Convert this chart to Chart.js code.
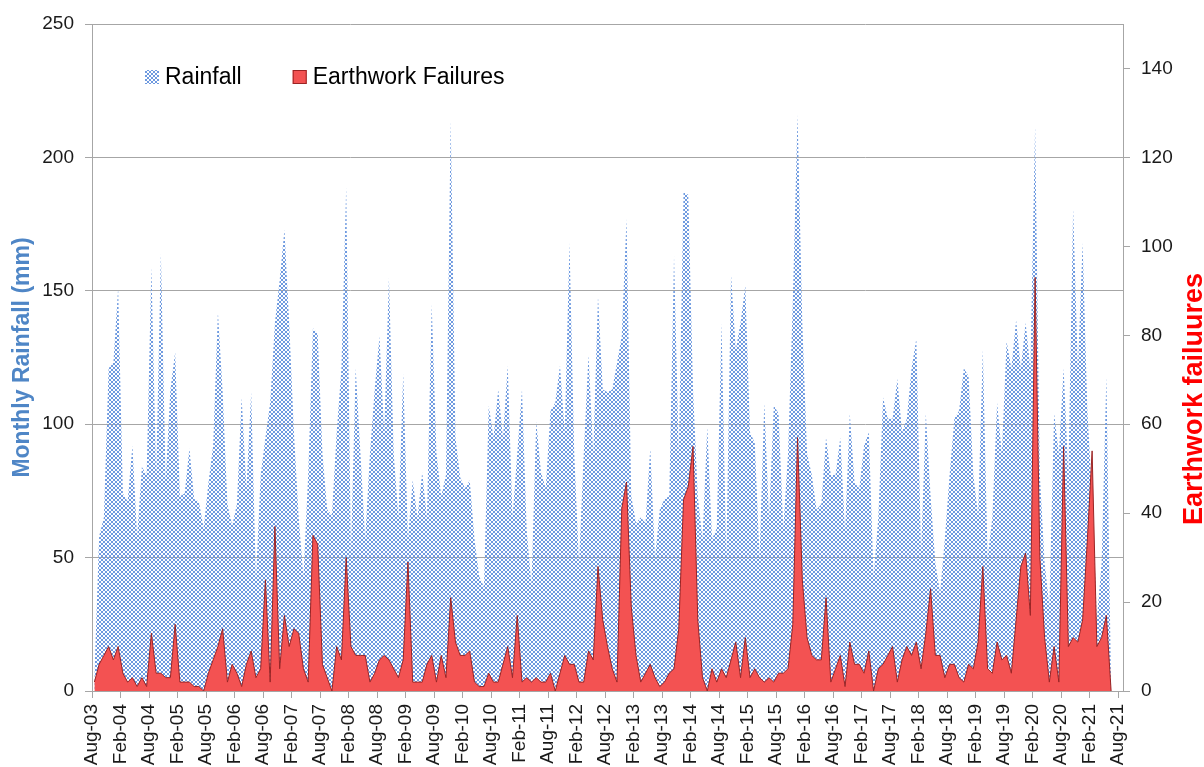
<!DOCTYPE html>
<html>
<head>
<meta charset="utf-8">
<title>Monthly rainfall and earthwork failures</title>
<script src="https://cdn.jsdelivr.net/npm/chart.js@4.4.1/dist/chart.umd.min.js"></script>
<style>
  html, body { margin: 0; padding: 0; background: #fff; }
  #wrap { width: 1204px; height: 767px; }
</style>
</head>
<body>
<div id="wrap"><canvas id="chart" width="1204" height="767"></canvas></div>
<script>
// Monthly series, Aug-03 onwards (one value per month)
const RAINFALL = [
  5, 58, 65, 121, 123, 151, 74, 71, 92, 58, 84, 81,
  159, 81, 164, 79, 113, 127, 73, 74, 91, 72, 71, 61,
  78, 92, 142, 112, 70, 62, 70, 110, 76, 112, 42, 81,
  95, 108, 138, 154, 173, 138, 97, 65, 43, 81, 136, 134,
  89, 68, 66, 97, 121, 189, 52, 121, 89, 57, 89, 113,
  133, 97, 155, 89, 65, 119, 57, 79, 65, 82, 65, 145,
  89, 73, 81, 214, 95, 80, 76, 79, 57, 43, 39, 107,
  95, 113, 95, 122, 65, 89, 113, 60, 40, 101, 82, 76,
  105, 108, 122, 97, 168, 89, 48, 89, 126, 89, 148, 113,
  112, 113, 123, 133, 177, 73, 63, 65, 63, 91, 50, 68,
  72, 73, 163, 89, 187, 186, 113, 73, 57, 99, 57, 61,
  138, 50, 156, 128, 138, 152, 97, 93, 50, 108, 65, 107,
  104, 61, 89, 146, 216, 138, 89, 81, 68, 70, 95, 81,
  81, 95, 60, 104, 78, 76, 92, 97, 43, 65, 110, 102,
  102, 117, 97, 102, 121, 132, 52, 104, 73, 48, 37, 57,
  81, 102, 105, 121, 118, 81, 66, 128, 50, 65, 108, 89,
  131, 121, 139, 121, 138, 121, 212, 81, 48, 32, 104, 89,
  121, 81, 181, 121, 168, 105, 73, 27, 48, 118, 0
];

const FAILURES = [
  2, 6, 8, 10, 7, 10, 4, 2, 3, 1, 3, 1,
  13, 4, 4, 3, 3, 15, 2, 2, 2, 1, 1, 0,
  4, 7, 10, 14, 2, 6, 4, 1, 6, 9, 3, 5,
  25, 2, 37, 5, 17, 10, 14, 13, 5, 2, 35, 33,
  6, 3, 0, 10, 7, 30, 10, 8, 8, 8, 2, 4,
  7, 8, 7, 5, 3, 7, 29, 2, 2, 2, 6, 8,
  2, 8, 3, 21, 11, 8, 8, 9, 2, 1, 1, 4,
  2, 2, 6, 10, 3, 17, 2, 3, 2, 3, 2, 2,
  4, 0, 4, 8, 6, 6, 2, 2, 9, 7, 28, 16,
  10, 5, 2, 41, 47, 19, 8, 2, 4, 6, 3, 1,
  2, 4, 5, 14, 43, 46, 55, 16, 3, 0, 5, 2,
  5, 3, 7, 11, 3, 12, 3, 5, 3, 2, 3, 2,
  4, 4, 5, 15, 57, 25, 12, 8, 7, 7, 21, 2,
  5, 8, 1, 11, 6, 6, 4, 9, 0, 5, 6, 8,
  10, 2, 7, 10, 8, 11, 5, 13, 23, 8, 8, 3,
  6, 6, 3, 2, 6, 5, 11, 28, 5, 4, 11, 7,
  8, 4, 16, 28, 31, 17, 93, 30, 12, 2, 10, 2,
  55, 10, 12, 11, 16, 34, 54, 10, 12, 17, 0
];

// one label every six months on the time axis
const TICK_LABELS = [
  'Aug-03', 'Feb-04', 'Aug-04', 'Feb-05', 'Aug-05', 'Feb-06', 'Aug-06', 'Feb-07',
  'Aug-07', 'Feb-08', 'Aug-08', 'Feb-09', 'Aug-09', 'Feb-10', 'Aug-10', 'Feb-11',
  'Aug-11', 'Feb-12', 'Aug-12', 'Feb-13', 'Aug-13', 'Feb-14', 'Aug-14', 'Feb-15',
  'Aug-15', 'Feb-16', 'Aug-16', 'Feb-17', 'Aug-17', 'Feb-18', 'Aug-18', 'Feb-19',
  'Aug-19', 'Feb-20', 'Aug-20', 'Feb-21', 'Aug-21'
];

const FONT = '"Liberation Sans", Arial, sans-serif';
const GRID = '#A6A6A6';
const TICK_COLOR = '#1a1a1a';
const RED_FILL = '#F35252';
const RED_EDGE = '#9A2424';

Chart.defaults.font.family = FONT;

// small-circle hatch used for the rainfall area
function rainPattern() {
  const tile = document.createElement('canvas');
  tile.width = 4;
  tile.height = 4;
  const t = tile.getContext('2d');
  t.fillStyle = '#6E9AE0';
  [[1, 0], [2, 0], [0, 1], [3, 1], [0, 2], [3, 2], [1, 3], [2, 3]].forEach(([x, y]) => {
    t.fillRect(x, y, 1, 1);
  });
  return t.createPattern(tile, 'repeat');
}

// points sit in the middle of each month slot
const toPoints = (arr) => arr.map((v, i) => ({ x: i + 0.5, y: v }));

// legend drawn inside the plot, top-left
const insideLegend = {
  id: 'insideLegend',
  afterDraw(chart) {
    const c = chart.ctx;
    const area = chart.chartArea;
    const y = area.top + 53;
    let x = area.left + 53;
    c.save();
    c.font = '23px ' + FONT;
    c.textBaseline = 'middle';
    chart.data.datasets.forEach((ds) => {
      c.fillStyle = ds.backgroundColor;
      c.fillRect(x, y - 7, 14, 14);
      if (ds.borderWidth > 0) {
        c.strokeStyle = ds.borderColor;
        c.lineWidth = 1;
        c.strokeRect(x + 0.5, y - 6.5, 13, 13);
      }
      c.fillStyle = '#000';
      c.fillText(ds.label, x + 20, y + 1);
      x += 20 + c.measureText(ds.label).width + 51;
    });
    c.restore();
  },
};

// right axis title reads bottom-to-top like the left one
const rightTitle = {
  id: 'rightTitle',
  afterDraw(chart) {
    const c = chart.ctx;
    const s = chart.scales.y2;
    c.save();
    c.translate(s.right - 2, chart.chartArea.top + 375);
    c.rotate(-Math.PI / 2);
    c.textAlign = 'center';
    c.textBaseline = 'alphabetic';
    c.fillStyle = '#FF0000';
    c.font = 'bold 27px ' + FONT;
    c.fillText('Earthwork failuures', 0, 0);
    c.restore();
  },
};

new Chart(document.getElementById('chart'), {
  type: 'line',
  data: {
    datasets: [
      {
        label: 'Rainfall',
        data: toPoints(RAINFALL),
        yAxisID: 'y',
        fill: 'origin',
        backgroundColor: rainPattern(),
        borderColor: 'rgba(0,0,0,0)',
        borderWidth: 0,
        pointRadius: 0,
        tension: 0,
        order: 2,
      },
      {
        label: 'Earthwork Failures',
        data: toPoints(FAILURES),
        yAxisID: 'y2',
        fill: 'origin',
        backgroundColor: RED_FILL,
        borderColor: RED_EDGE,
        borderWidth: 1,
        pointRadius: 0,
        tension: 0,
        order: 1,
      },
    ],
  },
  options: {
    responsive: false,
    animation: false,
    devicePixelRatio: 1,
    layout: { padding: { top: 24, left: 0, right: 0, bottom: 0 } },
    plugins: {
      legend: { display: false },
      tooltip: { enabled: false },
    },
    scales: {
      x: {
        type: 'linear',
        min: 0,
        max: 217,
        bounds: 'data',
        afterBuildTicks: (s) => { s.ticks = s.ticks.filter((t) => t.value % 6 === 0); },
        afterFit: (s) => { s.height = 76; },
        ticks: {
          stepSize: 6,
          autoSkip: false,
          minRotation: 90,
          maxRotation: 90,
          padding: 6,
          color: TICK_COLOR,
          font: { size: 19 },
          callback: (v) => TICK_LABELS[v / 6] ?? '',
        },
        grid: { drawOnChartArea: false, color: GRID, tickLength: 7 },
        border: { color: GRID },
      },
      y: {
        position: 'left',
        min: 0,
        max: 250,
        afterFit: (s) => { s.width = 92; },
        ticks: { stepSize: 50, padding: 11, color: TICK_COLOR, font: { size: 19 } },
        grid: { color: GRID, tickLength: 7 },
        border: { color: GRID },
        title: {
          display: true,
          text: 'Monthly Rainfall (mm)',
          color: '#4F86C6',
          font: { size: 23, weight: 'bold' },
          padding: { top: 9, bottom: 0 },
        },
      },
      y2: {
        position: 'right',
        min: 0,
        max: 150,
        bounds: 'data',
        afterBuildTicks: (s) => { s.ticks = s.ticks.filter((t) => t.value <= 140); },
        afterFit: (s) => { s.width = 81; },
        ticks: { stepSize: 20, padding: 11, color: TICK_COLOR, font: { size: 19 } },
        grid: { drawOnChartArea: false, color: GRID, tickLength: 7 },
        border: { color: GRID },
      },
    },
  },
  plugins: [insideLegend, rightTitle],
});
</script>
</body>
</html>
